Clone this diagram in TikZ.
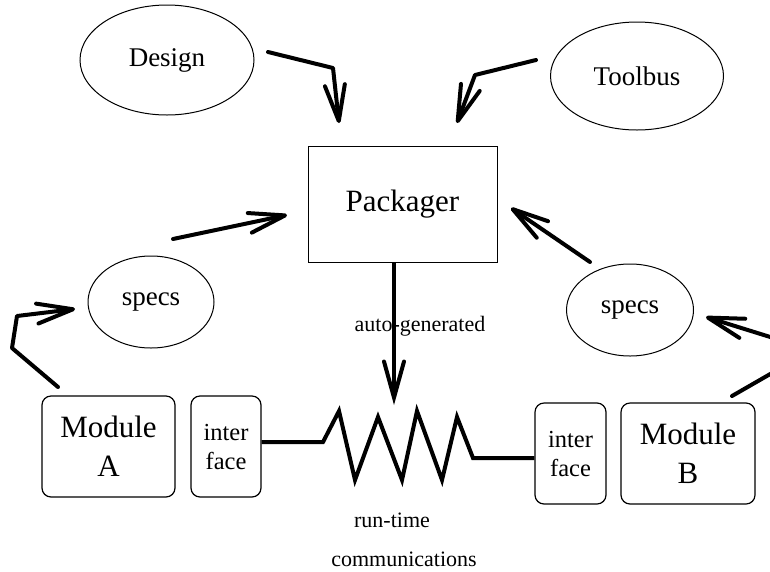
\documentclass[tikz,border=0pt]{standalone}
\usepackage{fontspec}
\setmainfont{Liberation Serif}
\usetikzlibrary{shapes.geometric,arrows.meta}
\begin{document}
\begin{tikzpicture}[x=1pt,y=-1pt,
  ell/.style={draw, ellipse, line width=1pt, inner sep=0pt, font=\fontsize{27}{32}\selectfont},
  rbox/.style={draw, rounded corners=9pt, line width=1.2pt, inner sep=0pt, align=center},
  arr/.style={line width=4pt, line cap=round, line join=round, -{Straight Barb[length=36pt,width=20pt,line cap=round,line join=round]}},
  wire/.style={line width=4pt, line join=miter},
  lbl/.style={font=\fontsize{22}{26}\selectfont, inner sep=0pt}]
\clip (0,0) rectangle (770,571);
\fill[white] (0,0) rectangle (770,571);
% ellipses
\node[ell, minimum width=174pt, minimum height=110pt] (design) at (167,60) {Design};
\node[ell, minimum width=173pt, minimum height=108pt] (toolbus) at (637,76) {Toolbus};
\node[ell, minimum width=126pt, minimum height=92pt] (specsA) at (151,302) {specs};
\node[ell, minimum width=127pt, minimum height=92pt] (specsB) at (630,310) {specs};
% packager
\node[draw, line width=1pt, minimum width=189pt, minimum height=116pt, font=\fontsize{31}{36}\selectfont, inner sep=0pt] (pack) at (402.5,204) {Packager};
% modules
\node[rbox, minimum width=133pt, minimum height=101pt, font=\fontsize{31}{39}\selectfont] (modA) at (108.5,446.5) {Module\\A};
\node[rbox, minimum width=70pt, minimum height=101pt, font=\fontsize{24.5}{29}\selectfont] (ifA) at (226,446.5) {inter\\face};
\node[rbox, minimum width=71pt, minimum height=101pt, font=\fontsize{24.5}{29}\selectfont] (ifB) at (570.5,453.5) {inter\\face};
\node[rbox, minimum width=134pt, minimum height=101pt, font=\fontsize{31}{39}\selectfont] (modB) at (688,453.5) {Module\\B};
% labels
\node[lbl] (auto) at (420,326) {auto-generated};
\node[lbl] (rt) at (392,520) {run-time};
\node[lbl] (comm) at (404,559) {communications};
% coordinates
\coordinate (d1) at (268,52); \coordinate (d2) at (333,68); \coordinate (d3) at (339,123);
\coordinate (t1) at (536,60); \coordinate (t2) at (475,75); \coordinate (t3) at (457,123);
\coordinate (la1) at (173,239); \coordinate (la2) at (287,215);
\coordinate (rb1) at (590,262); \coordinate (rb2) at (511,208);
\coordinate (m1) at (58,387); \coordinate (m2) at (12,348); \coordinate (m3) at (17,316); \coordinate (m4) at (75,309);
\coordinate (n1) at (732,396); \coordinate (n2) at (812,350); \coordinate (n3) at (706,317);
\coordinate (g1) at (394,262); \coordinate (g2) at (394,405);
% arrows
\draw[arr] (d1) -- (d2) -- (d3);
\draw[arr] (t1) -- (t2) -- (t3);
\draw[arr] (la1) -- (la2);
\draw[arr] (rb1) -- (rb2);
\draw[arr] (m1) -- (m2) -- (m3) -- (m4);
\draw[arr] (n1) -- (n2) -- (n3);
\draw[line width=4pt, -{Straight Barb[length=36pt,width=20pt,line cap=round]}] (pack.south -| g1) -- (g2);
% resistor wire
\draw[wire] (ifA.east |- 0,442) -- (323,442) -- (339,411) -- (355,480) -- (378,417) -- (402,480) -- (417,411) -- (442,480) -- (457,417) -- (473,458) -- (ifB.west |- 0,458);
\end{tikzpicture}
\end{document}
